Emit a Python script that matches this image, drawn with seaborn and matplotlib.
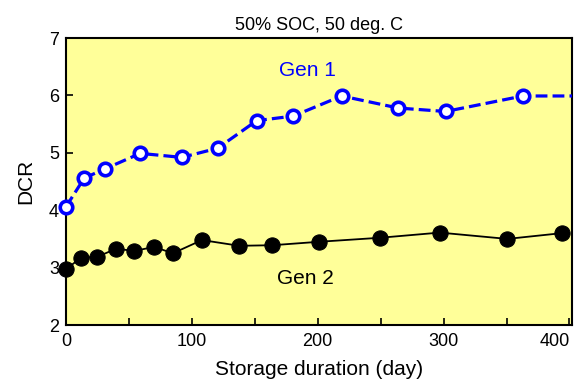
import numpy as np
import seaborn as sns
import matplotlib.pyplot as plt
from matplotlib.ticker import MultipleLocator

# values
gen1_days = [0, 14.5, 31, 59, 92, 120.5, 151.5, 180.6, 219, 264, 301.6, 363, 402]
gen1_dcr = [4.06, 4.56, 4.72, 4.99, 4.92, 5.08, 5.56, 5.64, 5.99, 5.78, 5.72, 5.99, 5.99]

gen2_days = [0, 11.7, 25, 40, 54, 70, 85, 108, 137.7, 164, 201, 249.5, 297, 350.6, 393.8]
gen2_dcr = [2.97, 3.17, 3.19, 3.33, 3.29, 3.36, 3.25, 3.48, 3.38, 3.39, 3.45, 3.52, 3.61, 3.50, 3.60]

x_ticks = [0, 100, 200, 300, 400]
title = "50% SOC, 50 deg. C"
x_label = "Storage duration (day)"
y_label = "DCR"

sns.set_theme(style="ticks")
plt.rcParams['font.family'] = ['Liberation Sans', 'DejaVu Sans']
plt.rcParams['text.color'] = 'black'
plt.rcParams['axes.labelcolor'] = 'black'
plt.rcParams['xtick.labelcolor'] = 'black'
plt.rcParams['ytick.labelcolor'] = 'black'

fig = plt.figure(figsize=(5.83, 3.8), dpi=100)
ax = fig.add_axes([0.1132, 0.1447, 0.8679, 0.7553])
ax.set_facecolor('#FFFF99')

# Gen 1: dashed blue line, open circles (last point is only the line to the edge)
sns.lineplot(x=gen1_days, y=gen1_dcr, ax=ax, sort=False, color='#0000FF',
             linestyle='--', linewidth=2.3, marker='o', markersize=9,
             markerfacecolor='white', markeredgecolor='#0000FF',
             markeredgewidth=2.6, markevery=list(range(len(gen1_days) - 1)),
             clip_on=False, zorder=3)

# Gen 2: solid black line, filled circles
sns.lineplot(x=gen2_days, y=gen2_dcr, ax=ax, sort=False, color='black',
             linewidth=1.3, marker='o', markersize=11,
             markerfacecolor='black', markeredgecolor='black',
             clip_on=False, zorder=3)

ax.text(192, 6.43, "Gen 1", color='#0000FF', fontsize=15, ha='center', va='center')
ax.text(190, 2.81, "Gen 2", color='black', fontsize=15, ha='center', va='center')

ax.set_xlim(0, 402)
ax.set_ylim(2, 7)
ax.set_xticks(x_ticks)
ax.xaxis.set_minor_locator(MultipleLocator(50))
ax.yaxis.set_major_locator(MultipleLocator(1))
ax.tick_params(which='both', direction='in', top=False, right=False,
               labelsize=13, width=1.2, color='black', labelcolor='black')
ax.tick_params(which='both', length=5)
ax.tick_params(axis='x', pad=6)
ax.tick_params(axis='y', pad=5)
for side in ax.spines.values():
    side.set_linewidth(1.5)
    side.set_color('black')

ax.set_title(title, fontsize=13, pad=6, color='black')
ax.set_xlabel(x_label, fontsize=15, labelpad=7, color='black')
ax.set_ylabel(y_label, fontsize=15, labelpad=10, color='black')

# last x tick label sits inside the right edge, as in the reference
ax.get_xticklabels()[-1].set_horizontalalignment('right')

fig.savefig("out.png", dpi=100)
